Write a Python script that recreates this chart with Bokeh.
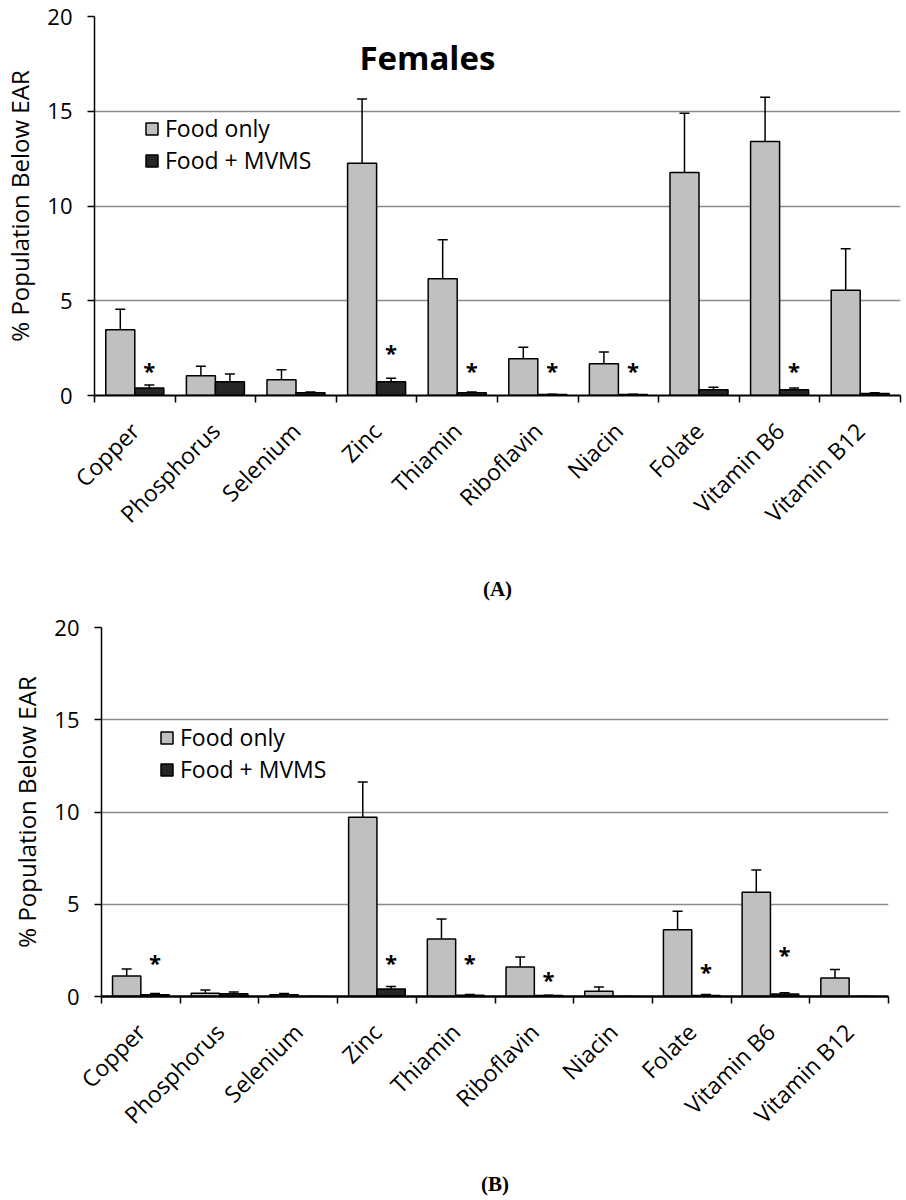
import math
from bokeh.plotting import figure
from bokeh.models import (ColumnDataSource, Range1d, FixedTicker, Whisker,
                          TeeHead, Legend, LegendItem, Label)
from bokeh.layouts import column
from bokeh.core.properties import value
from bokeh.embed import file_html
from bokeh.resources import INLINE

# ---------------- data ----------------
categories = ["Copper", "Phosphorus", "Selenium", "Zinc", "Thiamin",
              "Riboflavin", "Niacin", "Folate", "Vitamin B6", "Vitamin B12"]

# Panel A (Females)
food_a = [3.47, 1.04, 0.83, 12.26, 6.16, 1.94, 1.67, 11.77, 13.40, 5.56]
food_a_err = [1.08, 0.51, 0.53, 3.38, 2.06, 0.61, 0.62, 3.13, 2.34, 2.18]
mvms_a = [0.40, 0.72, 0.14, 0.72, 0.14, 0.05, 0.05, 0.30, 0.30, 0.10]
mvms_a_err = [0.16, 0.42, 0.05, 0.19, 0.04, 0.02, 0.02, 0.14, 0.09, 0.04]
star_a = [1.41, None, None, 2.34, 1.42, 1.42, 1.42, None, 1.42, None]

# Panel B
food_b = [1.11, 0.18, 0.09, 9.72, 3.12, 1.60, 0.29, 3.62, 5.65, 1.00]
food_b_err = [0.38, 0.17, 0.07, 1.90, 1.08, 0.54, 0.22, 1.00, 1.21, 0.47]
mvms_b = [0.10, 0.15, 0.00, 0.40, 0.07, 0.05, 0.00, 0.06, 0.13, 0.00]
mvms_b_err = [0.06, 0.09, 0.00, 0.14, 0.04, 0.02, 0.00, 0.05, 0.07, 0.00]
star_b = [1.90, None, None, 1.90, 1.90, 0.98, None, 1.45, 2.37, None]

y_ticks = [0, 5, 10, 15, 20]
legend_labels = ["Food only", "Food + MVMS"]

FONT = "Open Sans"
FOOD_COLOR = "#c0c0c0"
MVMS_COLOR = "#262626"
OFF = 0.18
BW = 0.36


def make_panel(food, food_err, mvms, mvms_err, stars, panel_label, width, height,
               mb_left, mb_right, mb_top, mb_bottom, legend_loc, label_standoff,
               xaxis_width, title_text=None):
    n = len(categories)
    centers = [i + 0.5 for i in range(n)]
    src = ColumnDataSource(dict(
        xf=[c - OFF for c in centers],
        xm=[c + OFF for c in centers],
        food=food,
        food_up=[f + e for f, e in zip(food, food_err)],
        mvms=mvms,
        mvms_up=[m + e for m, e in zip(mvms, mvms_err)],
    ))
    p = figure(x_range=Range1d(0, n), y_range=Range1d(0, 20), width=width, height=height,
               output_backend="svg", toolbar_location=None,
               min_border_left=mb_left, min_border_right=mb_right,
               min_border_top=mb_top, min_border_bottom=mb_bottom)
    p.frame_align = False
    p.outline_line_color = None
    p.xgrid.grid_line_color = None
    p.ygrid.ticker = FixedTicker(ticks=y_ticks)
    p.ygrid.grid_line_color = "#8a8a8a"
    p.ygrid.grid_line_width = 1.5

    # y axis
    ya = p.yaxis[0]
    ya.ticker = FixedTicker(ticks=y_ticks)
    ya.minor_tick_line_color = None
    ya.major_tick_in = 0
    ya.major_tick_out = 7
    ya.major_tick_line_width = 1.5
    ya.axis_line_width = 1.5
    ya.axis_line_color = "black"
    ya.major_tick_line_color = "black"
    ya.major_label_text_font = FONT
    ya.major_label_text_font_size = "22px"
    ya.major_label_text_color = "black"
    ya.major_label_standoff = 15
    ya.axis_label = "% Population Below EAR"
    ya.axis_label_text_font = FONT
    ya.axis_label_text_font_style = "normal"
    ya.axis_label_text_font_size = "24px"
    ya.axis_label_text_color = "black"
    ya.axis_label_standoff = 8

    # x axis: names at category centres, ticks (minor) at category boundaries
    xa = p.xaxis[0]
    xa.ticker = FixedTicker(ticks=centers, minor_ticks=list(range(n + 1)))
    xa.major_label_overrides = {c: name for c, name in zip(centers, categories)}
    xa.axis_line_color = "black"
    xa.axis_line_width = xaxis_width
    xa.major_tick_line_color = None
    xa.major_tick_in = 0
    xa.major_tick_out = 0
    xa.minor_tick_line_color = "black"
    xa.minor_tick_line_width = 1.5
    xa.minor_tick_in = 0
    xa.minor_tick_out = 7
    xa.major_label_orientation = math.pi / 4
    xa.major_label_text_font = FONT
    xa.major_label_text_font_size = "23px"
    xa.major_label_text_color = "black"
    xa.major_label_standoff = 24
    xa.axis_label = panel_label
    xa.axis_label_text_font = "Liberation Serif"
    xa.axis_label_text_font_style = "bold"
    xa.axis_label_text_font_size = "21px"
    xa.axis_label_text_color = "black"
    xa.axis_label_standoff = label_standoff

    r_food = p.vbar(x="xf", top="food", width=BW, source=src,
                    fill_color=FOOD_COLOR, line_color="black", line_width=1.5)
    r_mvms = p.vbar(x="xm", top="mvms", width=BW, source=src,
                    fill_color=MVMS_COLOR, line_color="black", line_width=1.5)

    for base, col_low, col_up in (("xf", "food", "food_up"), ("xm", "mvms", "mvms_up")):
        w = Whisker(base=base, lower=col_low, upper=col_up,
                    source=src, line_color="black", line_width=1.5, lower_head=None,
                    upper_head=TeeHead(size=10, line_color="black", line_width=1.5))
        p.add_layout(w)

    s_x = [c + OFF for c, s in zip(centers, stars) if s is not None]
    s_vals = [s for s in stars if s is not None]
    star_src = ColumnDataSource(dict(x=s_x, y=s_vals, t=["*"] * len(s_x)))
    p.text(x="x", y="y", text="t", source=star_src,
           text_font=value(FONT), text_font_style="bold", text_font_size="22px",
           text_align="center", text_baseline="middle", y_offset=1, text_color="black")

    legend = Legend(items=[LegendItem(label=legend_labels[0], renderers=[r_food]),
                           LegendItem(label=legend_labels[1], renderers=[r_mvms])],
                    location=legend_loc, padding=0, margin=0, spacing=0,
                    glyph_height=15, glyph_width=15, label_height=15, label_standoff=6,
                    border_line_color=None, background_fill_alpha=0,
                    label_text_font=FONT, label_text_font_size="23px",
                    label_text_color="black")
    p.add_layout(legend, "center")

    if title_text:
        p.add_layout(Label(x=4.13, y=17.84, text=title_text, text_font=FONT,
                           text_font_style="bold", text_font_size="33px",
                           text_align="center", text_baseline="middle",
                           text_color="black"))
    return p


p1 = make_panel(food_a, food_a_err, mvms_a, mvms_a_err, star_a, "(A)",
                904, 604, 91, 4, 16, 209, (50, 219), 34, 2, title_text="Females")
p2 = make_panel(food_b, food_b_err, mvms_b, mvms_b_err, star_b, "(B)",
                904, 595, 101, 16, 23, 203, (58, 211), 28, 2.5)

layout = column(p1, p2, spacing=0)
open("out.html", "w").write(file_html(layout, INLINE))
